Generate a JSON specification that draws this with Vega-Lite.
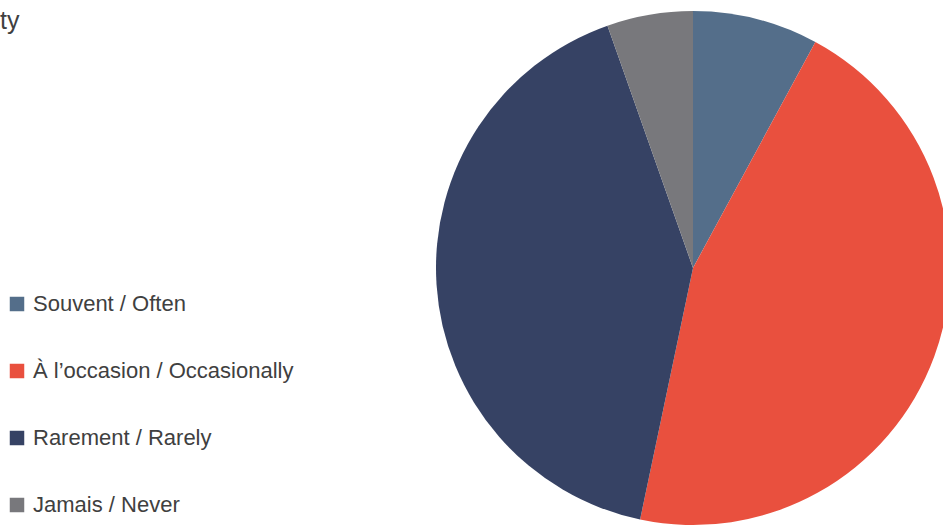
{
  "$schema": "https://vega.github.io/schema/vega-lite/v6.json",
  "width": 943,
  "height": 525,
  "autosize": {"type": "none"},
  "padding": 0,
  "background": "white",
  "title": {
    "text": "ty",
    "anchor": "start",
    "frame": "group",
    "orient": "top",
    "dx": 0,
    "dy": 34,
    "offset": 0,
    "fontSize": 25,
    "fontWeight": "normal",
    "font": "Liberation Sans, Arial, sans-serif",
    "color": "#404040"
  },
  "data": {
    "values": [
      {"category": "Souvent / Often", "value": 7.9, "order": 1},
      {"category": "À l’occasion / Occasionally", "value": 45.4, "order": 2},
      {"category": "Rarement / Rarely", "value": 41.3, "order": 3},
      {"category": "Jamais / Never", "value": 5.4, "order": 4}
    ]
  },
  "mark": {"type": "arc", "radius": 257, "x": 693, "y": 268, "stroke": null},
  "encoding": {
    "theta": {"field": "value", "type": "quantitative", "stack": true},
    "order": {"field": "order", "type": "quantitative"},
    "color": {
      "field": "category",
      "type": "nominal",
      "sort": ["Souvent / Often", "À l’occasion / Occasionally", "Rarement / Rarely", "Jamais / Never"],
      "scale": {
        "domain": ["Souvent / Often", "À l’occasion / Occasionally", "Rarement / Rarely", "Jamais / Never"],
        "range": ["#546e8a", "#e9503e", "#364264", "#78787c"]
      },
      "legend": {
        "title": null,
        "orient": "none",
        "legendX": 6,
        "legendY": 293,
        "symbolType": "square",
        "symbolSize": 210,
        "symbolStrokeWidth": 0,
        "symbolOffset": 0,
        "labelFontSize": 22,
        "labelFont": "Liberation Sans, Arial, sans-serif",
        "labelColor": "#404040",
        "labelOffset": 5,
        "labelLimit": 400,
        "rowPadding": 45
      }
    }
  }
}
